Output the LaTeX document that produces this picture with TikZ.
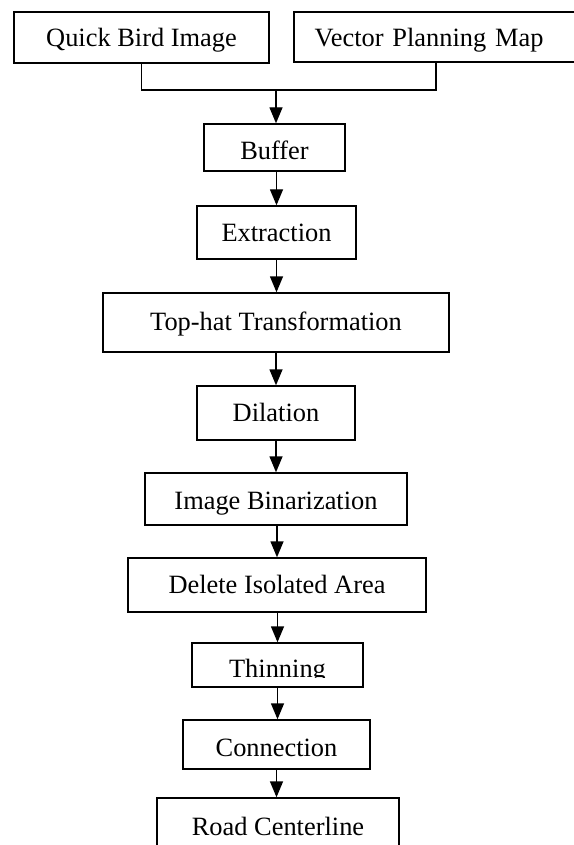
\documentclass[tikz,border=0pt]{standalone}
\usepackage{fontspec}
\setmainfont{Liberation Serif}
\usetikzlibrary{arrows.meta}
\begin{document}
\begin{tikzpicture}[x=0.5pt,y=-0.5pt,
  boxst/.style={draw=black,line width=0.7pt,inner sep=0pt,text depth=0pt,
    font=\fontsize{13.2}{15}\selectfont,fill=white},
  txtst/.style={inner sep=0pt,text depth=0pt,font=\fontsize{13.2}{15}\selectfont},
  link/.style={draw=black,line width=0.7pt},
  arr/.style={draw=black,line width=0.7pt,-{Triangle[length=8pt,width=6.5pt]}}]
\fill[white] (0,0) rectangle (573,845);
\useasboundingbox (0,0) rectangle (573,845);
% boxes
\node[boxst,minimum width=127.5pt,minimum height=25.5pt,text height=9.5pt] (qb) at (141.5,37.5) {Quick Bird Image};
\node[boxst,minimum height=25pt,text height=9.7pt,text width=132.3pt,inner xsep=10.35pt,align=left] (vpm) at (447,37) {Vector Planning Map};
\node[boxst,minimum width=70.5pt,minimum height=23.5pt,text height=12.5pt] (buf) at (274.5,147.5) {Buffer};
\node[boxst,minimum width=79.5pt,minimum height=26.5pt,text height=9.2pt] (ext) at (276.5,232.5) {Extraction};
\node[boxst,minimum width=173pt,minimum height=29.5pt,text height=7.5pt] (top) at (276,322.5) {Top-hat Transformation};
\node[boxst,minimum width=79pt,minimum height=27pt,text height=8.7pt] (dil) at (276,413) {Dilation};
\node[boxst,minimum width=131pt,minimum height=26pt,text height=10.3pt] (bin) at (276,499) {Image Binarization};
\node[boxst,minimum width=149pt,minimum height=27pt,text height=8.3pt] (del) at (277,585) {Delete Isolated Area};
\node[boxst,minimum width=85.5pt,minimum height=22pt] (thin) at (277.5,665) {};
\begin{scope}
  \clip (193,644) rectangle (362,677.5);
  \node[txtst,anchor=base] (thintxt) at (277.5,677) {Thinning};
\end{scope}
\node[boxst,minimum width=93.5pt,minimum height=24.5pt,text height=11.5pt] (con) at (276.5,744.5) {Connection};
\node[boxst,minimum width=121pt,minimum height=26pt,text height=11pt] (road) at (278,824) {Road Centerline};
% connectors
\coordinate (j) at (276,90);
\coordinate (vj) at (436,90);
\draw[link] (qb.south) |- (j) -- (vj) -- (vj |- vpm.south);
\draw[arr] (j) -- (j |- buf.north);
\draw[arr] (ext.north |- buf.south) -- (ext.north);
\draw[arr] (ext.south) -- (ext.south |- top.north);
\draw[arr] (top.south) -- (top.south |- dil.north);
\draw[arr] (bin.north |- dil.south) -- (bin.north);
\draw[arr] (del.north |- bin.south) -- (del.north);
\draw[arr] (thin.north |- del.south) -- (thin.north);
\draw[arr] (thin.south) -- (thin.south |- con.north);
\draw[arr] (con.south) -- (con.south |- road.north);
\end{tikzpicture}
\end{document}
